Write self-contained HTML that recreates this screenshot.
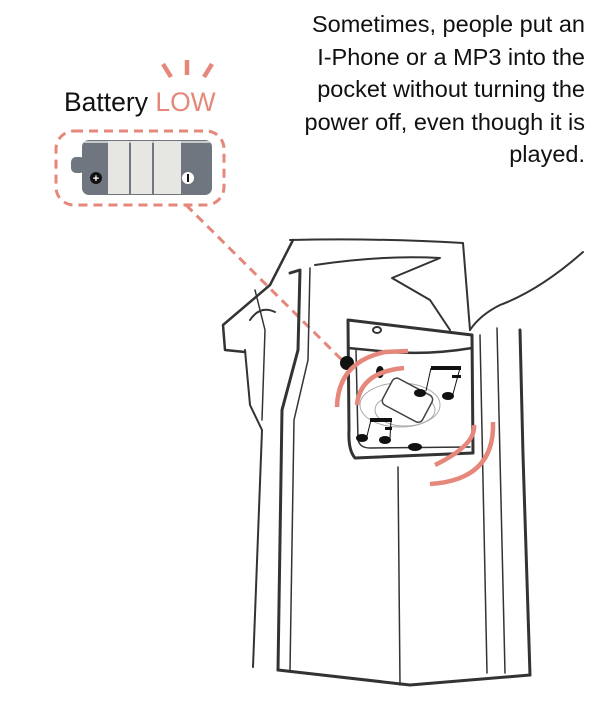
<!DOCTYPE html>
<html><head><meta charset="utf-8"><style>
html,body{margin:0;padding:0;background:#fff;width:600px;height:715px;overflow:hidden}
.t{position:absolute;right:15px;top:8px;width:340px;text-align:right;font-family:"Liberation Sans",sans-serif;font-size:23.5px;line-height:32.5px;color:#111}
</style></head><body>
<div class="t">Sometimes, people put an<br>I-Phone or a MP3 into the<br>pocket without turning the<br>power off, even though it is<br>played.</div>
<svg width="600" height="715" style="position:absolute;left:0;top:0" xmlns="http://www.w3.org/2000/svg">
<text x="64" y="111" font-family="Liberation Sans,sans-serif" font-size="26.5" fill="#111">Battery <tspan fill="#e5877a">LOW</tspan></text>
<g stroke="#e5877a" stroke-width="4.5"><line x1="163" y1="64" x2="171" y2="77"/><line x1="187" y1="60" x2="187" y2="75"/><line x1="212" y1="64" x2="204" y2="77"/></g>
<rect x="56" y="131" width="168" height="74" rx="18" fill="none" stroke="#e5877a" stroke-width="3" stroke-dasharray="9,6"/>
<line x1="186" y1="205" x2="342" y2="360" stroke="#e5877a" stroke-width="3" stroke-dasharray="9,6"/>
<rect x="71" y="157" width="14" height="16" rx="5" fill="#6f7680"/>
<rect x="82" y="140" width="130" height="55" rx="7" fill="#6f7680"/>
<rect x="108" y="141" width="73" height="53" fill="#e6e6e2"/>
<line x1="130" y1="141" x2="130" y2="194" stroke="#6f7680" stroke-width="2"/>
<line x1="153" y1="141" x2="153" y2="194" stroke="#6f7680" stroke-width="2"/>
<line x1="84" y1="142" x2="210" y2="142" stroke="#e6e6e2" stroke-width="1.5"/>
<circle cx="96" cy="178" r="6" fill="#111"/><text x="96" y="182" font-size="11" font-family="Liberation Sans" fill="#fff" text-anchor="middle" font-weight="bold">+</text>
<circle cx="188" cy="178" r="6" fill="#fff"/><rect x="187" y="174" width="2" height="8" fill="#111"/>
<g fill="none" stroke="#333" stroke-linecap="round" stroke-linejoin="round">
<path d="M290 240 Q380 238 463 243 L470 330" stroke-width="2"/>
<path d="M293 240 L270 285 L223 325 L225 350 L245 352" stroke-width="2.5"/>
<path d="M250 320 Q260 305 275 312" stroke-width="2"/>
<path d="M245 350 L250 405 L262 430 L253 667" stroke-width="2"/>
<path d="M255 290 L265 330 L262 420" stroke-width="1.5"/>
<path d="M290 273 L300 270 L298 350 L282 410 L278 670" stroke-width="3"/>
<path d="M310 268 L308 360 L294 420 L290 670" stroke-width="1.5"/>
<path d="M315 265 Q380 255 440 258 L392 278 L430 300 L450 330" stroke-width="2"/>
<path d="M278 670 L410 685 L530 675" stroke-width="3"/>
<path d="M530 675 L523 455 L520 330" stroke-width="3"/>
<path d="M583 252 Q540 290 500 305 Q480 315 470 330" stroke-width="2"/>
<path d="M480 335 L487 673" stroke-width="1.5"/>
<path d="M497 328 L505 673" stroke-width="1.5"/>
<path d="M398 467 L400 685" stroke-width="1.5"/>
<path d="M348 320 L472 335 L473 453 L355 458 Q348 450 349 430 Z" stroke-width="3"/>
<path d="M348 348 L390 352 Q430 355 472 348" stroke-width="2.5"/>
<path d="M356 350 L358 440 Q360 448 370 448 L470 447" stroke-width="1.5"/>
<ellipse cx="377" cy="330" rx="4" ry="3" stroke-width="2"/>
</g>
<g fill="none" stroke="#aaa" stroke-width="1"><ellipse cx="400" cy="405" rx="40" ry="22"/><ellipse cx="405" cy="410" rx="30" ry="16"/></g>
<rect x="385" y="385" width="45" height="30" rx="5" transform="rotate(28 407 400)" fill="#fff" stroke="#444" stroke-width="1.5"/>
<g fill="#111"><circle cx="347" cy="363" r="7"/>
<ellipse cx="380" cy="372" rx="4" ry="6"/>
<ellipse cx="420" cy="393" rx="6" ry="4"/><ellipse cx="448" cy="396" rx="6" ry="4"/>
<rect x="431" y="366" width="30" height="4"/><rect x="452" y="375" width="9" height="3"/>
<ellipse cx="362" cy="438" rx="6" ry="4"/><ellipse cx="385" cy="440" rx="6" ry="4"/>
<rect x="370" y="418" width="22" height="4"/><rect x="385" y="427" width="7" height="3"/>
<ellipse cx="415" cy="447" rx="7" ry="4"/></g>
<g stroke="#111" stroke-width="1"><line x1="426" y1="391" x2="431" y2="368"/><line x1="453" y1="394" x2="460" y2="368"/><line x1="367" y1="436" x2="371" y2="420"/><line x1="390" y1="438" x2="391" y2="420"/></g>
<g fill="none" stroke="#e5877a" stroke-width="4.5">
<path d="M337 407 Q338 362 385 352 L408 351"/>
<path d="M357 405 Q360 372 404 368"/>
<path d="M474 425 Q476 445 435 465"/>
<path d="M493 422 Q495 480 430 484"/>
</g>
</svg>
</body></html>
